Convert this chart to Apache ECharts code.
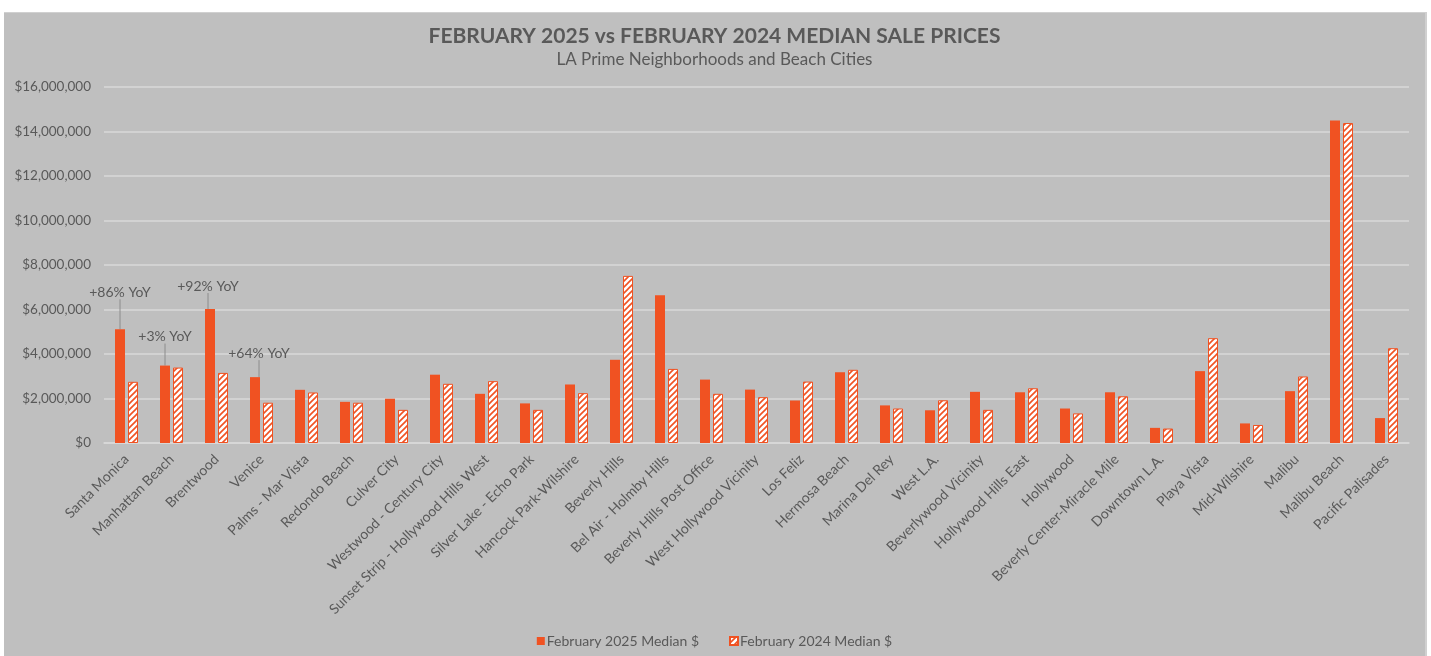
<!DOCTYPE html>
<html>
<head>
<meta charset="utf-8">
<script src="https://cdn.jsdelivr.net/npm/echarts@6/dist/echarts.min.js"></script>
<style>
  html, body { margin: 0; padding: 0; background: #ffffff; width: 1431px; height: 656px; overflow: hidden; }
  #chart { position: absolute; left: 4px; top: 12px; width: 1423px; height: 644px; background: #bfbfbf; box-sizing: border-box; border-right: 2px solid #d0d0d0; border-top: 1px solid #d0d0d0; }
</style>
</head>
<body>
<div id="chart"></div>
<script>
const categories = [
  'Santa Monica', 'Manhattan Beach', 'Brentwood', 'Venice', 'Palms - Mar Vista',
  'Redondo Beach', 'Culver City', 'Westwood - Century City', 'Sunset Strip - Hollywood Hills West',
  'Silver Lake - Echo Park', 'Hancock Park-Wilshire', 'Beverly Hills', 'Bel Air - Holmby Hills',
  'Beverly Hills Post Office', 'West Hollywood Vicinity', 'Los Feliz', 'Hermosa Beach',
  'Marina Del Rey', 'West L.A.', 'Beverlywood Vicinity', 'Hollywood Hills East', 'Hollywood',
  'Beverly Center-Miracle Mile', 'Downtown L.A.', 'Playa Vista', 'Mid-Wilshire', 'Malibu',
  'Malibu Beach', 'Pacific Palisades'
];
const median2025 = [
  5110000, 3480000, 6020000, 2960000, 2390000, 1850000, 1990000, 3070000, 2210000,
  1780000, 2630000, 3740000, 6640000, 2850000, 2400000, 1910000, 3180000, 1690000,
  1470000, 2300000, 2280000, 1550000, 2280000, 680000, 3230000, 880000, 2330000,
  14500000, 1120000
];
const median2024 = [
  2750000, 3390000, 3150000, 1810000, 2270000, 1810000, 1490000, 2660000, 2780000,
  1490000, 2240000, 7510000, 3330000, 2210000, 2060000, 2760000, 3290000, 1550000,
  1920000, 1490000, 2460000, 1330000, 2100000, 650000, 4710000, 810000, 2990000,
  14380000, 4260000
];
const yoyIndex = [0, 1, 2, 3];
const yoyText = ['+86% YoY', '+3% YoY', '+92% YoY', '+64% YoY'];
const seriesNames = ['February 2025 Median $', 'February 2024 Median $'];
const titleText = 'FEBRUARY 2025 vs FEBRUARY 2024 MEDIAN SALE PRICES';
const subtitleText = 'LA Prime Neighborhoods and Beach Cities';

const ORANGE = '#f05222';
const TXT = '#595959';
const FONT = 'Lato, "Open Sans", sans-serif';

// hatched pattern
const pc = document.createElement('canvas');
pc.width = 6; pc.height = 6;
const g = pc.getContext('2d');
g.fillStyle = '#ffffff';
g.fillRect(0, 0, 6, 6);
g.strokeStyle = ORANGE;
g.lineWidth = 1.6;
g.beginPath();
g.moveTo(0, 6); g.lineTo(6, 0);
g.moveTo(-1, 1); g.lineTo(1, -1);
g.moveTo(5, 7); g.lineTo(7, 5);
g.stroke();

// label offsets for annotations [dx, dy]
const yoyOffset = { 0: [0, -26], 1: [0, -18], 2: [-2, -12], 3: [4, -13] };

const data2025 = median2025.map((v, i) => {
  const k = yoyIndex.indexOf(i);
  if (k >= 0) {
    return { value: v, label: { show: true, formatter: yoyText[k] } };
  }
  return v;
});

const chart = echarts.init(document.getElementById('chart'));
chart.setOption({
  animation: false,
  backgroundColor: '#bfbfbf',
  title: [
    { text: titleText, left: 'center', top: 8,
      textStyle: { fontFamily: FONT, fontSize: 21, fontWeight: 'bold', color: TXT } },
    { text: subtitleText, left: 'center', top: 33,
      textStyle: { fontFamily: FONT, fontSize: 17, fontWeight: 'normal', color: TXT } }
  ],
  legend: {
    bottom: 3, left: 'center', itemWidth: 8, itemHeight: 8, itemGap: 30, icon: 'rect',
    textStyle: { fontFamily: FONT, fontSize: 14, color: TXT, padding: [0, 0, 0, -3] },
    data: seriesNames
  },
  grid: { left: 100, right: 16, top: 74, bottom: 213, containLabel: false },
  xAxis: {
    type: 'category', data: categories,
    axisLine: { lineStyle: { color: '#d9d9d9', width: 1.5 } },
    axisTick: { show: false },
    axisLabel: { rotate: 45, interval: 0, margin: 14, fontFamily: FONT, fontSize: 14, color: TXT }
  },
  yAxis: {
    type: 'value', min: 0, max: 16000000, interval: 2000000,
    axisLine: { show: false }, axisTick: { show: false },
    splitLine: { lineStyle: { color: '#d9d9d9', width: 1.5 } },
    axisLabel: {
      margin: 13, fontFamily: FONT, fontSize: 13.5, color: TXT,
      formatter: v => '$' + v.toLocaleString('en-US')
    }
  },
  series: [
    {
      name: seriesNames[0], type: 'bar', data: data2025,
      barWidth: 10, barGap: '30%',
      itemStyle: { color: ORANGE },
      label: { show: false, position: 'top', distance: 4, fontFamily: FONT, fontSize: 14, color: TXT },
      labelLine: { show: true, lineStyle: { color: '#8c8c8c', width: 1 } },
      labelLayout: function (p) {
        const o = yoyOffset[p.dataIndex];
        if (!o) return {};
        return { dx: o[0], dy: o[1] };
      }
    },
    {
      name: seriesNames[1], type: 'bar', data: median2024,
      barWidth: 10,
      itemStyle: { color: { image: pc, repeat: 'repeat' }, borderColor: ORANGE, borderWidth: 1 }
    }
  ]
});
</script>
</body>
</html>
